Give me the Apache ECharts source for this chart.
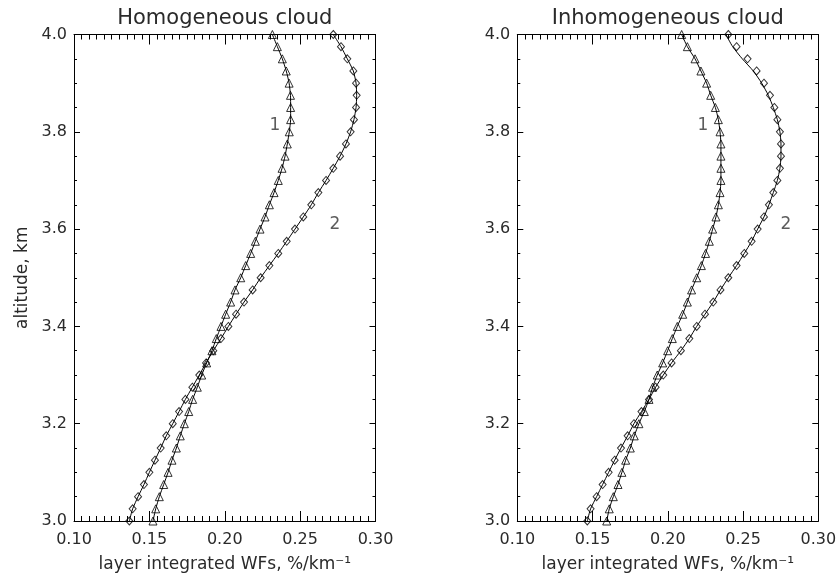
<!DOCTYPE html>
<html><head><meta charset="utf-8">
<script src="https://cdn.jsdelivr.net/npm/echarts@6/dist/echarts.min.js"></script>
<style>html,body{margin:0;padding:0;background:#fff}#c{width:840px;height:580px}</style>
</head><body><div id="c"></div>
<script>
// altitude grid (km), bottom to top
const altitudes = [3.000,3.025,3.050,3.075,3.100,3.125,3.150,3.175,3.200,3.225,
  3.250,3.275,3.300,3.325,3.350,3.375,3.400,3.425,3.450,3.475,
  3.500,3.525,3.550,3.575,3.600,3.625,3.650,3.675,3.700,3.725,
  3.750,3.775,3.800,3.825,3.850,3.875,3.900,3.925,3.950,3.975,4.000];

// Homogeneous cloud, curve 1 (triangles)
const homTri = [0.1524,0.1542,0.1566,0.1595,0.1624,0.1650,0.1679,0.1705,0.1732,0.1761,
  0.1787,0.1818,0.1847,0.1880,0.1915,0.1944,0.1975,0.2006,0.2039,0.2068,
  0.2106,0.2139,0.2172,0.2203,0.2234,0.2267,0.2296,0.2327,0.2355,0.2380,
  0.2400,0.2415,0.2428,0.2437,0.2437,0.2436,0.2427,0.2408,0.2382,0.2349,0.2316];
// Homogeneous cloud, curve 2 (diamonds)
const homDia = [0.1367,0.1389,0.1425,0.1464,0.1500,0.1537,0.1575,0.1612,0.1655,0.1697,
  0.1739,0.1785,0.1831,0.1876,0.1924,0.1975,0.2024,0.2075,0.2128,0.2185,
  0.2238,0.2296,0.2355,0.2411,0.2466,0.2521,0.2574,0.2621,0.2672,0.2720,
  0.2765,0.2804,0.2835,0.2857,0.2871,0.2875,0.2871,0.2853,0.2813,0.2771,0.2720];
// Inhomogeneous cloud, curve 1 (triangles)
const inhTri = [0.1594,0.1611,0.1638,0.1669,0.1695,0.1720,0.1751,0.1777,0.1808,0.1844,
  0.1875,0.1899,0.1930,0.1966,0.1999,0.2030,0.2063,0.2099,0.2130,0.2158,
  0.2192,0.2223,0.2251,0.2276,0.2298,0.2320,0.2336,0.2347,0.2353,0.2353,
  0.2353,0.2353,0.2347,0.2336,0.2316,0.2285,0.2258,0.2220,0.2181,0.2130,0.2092];
// Inhomogeneous cloud, curve 2 (diamond markers)
const inhDia = [0.1465,0.1487,0.1527,0.1567,0.1607,0.1647,0.1689,0.1733,0.1775,0.1825,
  0.1875,0.1919,0.1970,0.2025,0.2087,0.2143,0.2192,0.2247,0.2302,0.2350,
  0.2402,0.2457,0.2508,0.2557,0.2597,0.2639,0.2672,0.2701,0.2728,0.2745,
  0.2752,0.2752,0.2745,0.2728,0.2708,0.2679,0.2639,0.2590,0.2530,0.2457,0.2402];
// Inhomogeneous cloud, curve 2 (solid line)
const inhDiaLine = [0.1465,0.1487,0.1527,0.1567,0.1607,0.1647,0.1689,0.1733,0.1775,0.1825,
  0.1875,0.1919,0.1970,0.2025,0.2087,0.2143,0.2192,0.2247,0.2302,0.2350,
  0.2402,0.2457,0.2508,0.2557,0.2597,0.2639,0.2672,0.2701,0.2728,0.2745,
  0.2752,0.2752,0.2745,0.2728,0.2701,0.2668,0.2624,0.2568,0.2495,0.2431,0.2386];

const panelTitles = ['Homogeneous cloud', 'Inhomogeneous cloud'];
const xTitle = 'layer integrated WFs, %/km\u207B\u00B9';
const yTitle = 'altitude, km';
// curve number labels: [x, altitude, text]
const labelsHom = [[0.2333, 3.812, '1'], [0.2731, 3.610, '2']];
const labelsInh = [[0.2234, 3.812, '1'], [0.2785, 3.610, '2']];

const FONT = 'DejaVu Sans';
const TXT = '#2a2a2a';
const pairs = (arr) => arr.map((v, i) => [v, altitudes[i]]);

const grids = [
  {left: 74, top: 34.5, width: 301.5, height: 486.5},
  {left: 517.3, top: 34.5, width: 301, height: 486.5}
];

function xAxisDef(g, pos) {
  const bottom = pos === 'bottom';
  return {
    type: 'value', gridIndex: g, position: pos, min: 0.10, max: 0.30, interval: 0.05,
    axisLine: {show: true, onZero: false, lineStyle: {color: '#000', width: 1}},
    axisTick: {show: true, inside: true, length: 10, lineStyle: {color: '#000', width: 1}},
    minorTick: {show: true, splitNumber: 10, length: 5, lineStyle: {color: '#000', width: 1}},
    splitLine: {show: false},
    axisLabel: {show: bottom, fontFamily: FONT, fontSize: 16, color: TXT, margin: 11,
      formatter: v => v.toFixed(2)},
    name: bottom ? xTitle : '', nameLocation: 'middle', nameGap: 35,
    nameTextStyle: {fontFamily: FONT, fontSize: 17, color: TXT}
  };
}
function yAxisDef(g, pos, withName) {
  const left = pos === 'left';
  return {
    type: 'value', gridIndex: g, position: pos, min: 3.0, max: 4.0, interval: 0.2,
    axisLine: {show: true, onZero: false, lineStyle: {color: '#000', width: 1}},
    axisTick: {show: true, inside: true, length: 6, lineStyle: {color: '#000', width: 1}},
    minorTick: {show: true, splitNumber: 4, length: 3, lineStyle: {color: '#000', width: 1}},
    splitLine: {show: false},
    axisLabel: {show: left, fontFamily: FONT, fontSize: 16, color: TXT, margin: 7,
      formatter: v => v.toFixed(1)},
    name: withName ? yTitle : '', nameLocation: 'middle', nameGap: 43, nameRotate: 90,
    nameTextStyle: {fontFamily: FONT, fontSize: 17, color: TXT}
  };
}

function lineSeries(arr, xi, yi) {
  return {type: 'line', xAxisIndex: xi, yAxisIndex: yi, data: pairs(arr), showSymbol: false,
    smooth: 0.2, lineStyle: {color: '#000', width: 1}, silent: true, animation: false, z: 2};
}
function markSeries(arr, xi, yi, sym, size) {
  return {type: 'scatter', xAxisIndex: xi, yAxisIndex: yi, data: pairs(arr), symbol: sym,
    symbolSize: size, itemStyle: {color: 'rgba(255,255,255,0)', borderColor: '#000', borderWidth: 1},
    silent: true, animation: false, z: 3};
}
function labelSeries(arr, xi, yi) {
  return {type: 'scatter', xAxisIndex: xi, yAxisIndex: yi, data: arr, symbolSize: 1,
    itemStyle: {color: 'rgba(0,0,0,0)'}, silent: true, animation: false,
    label: {show: true, position: 'inside', formatter: p => p.data[2],
      fontFamily: FONT, fontSize: 17, color: '#333'}};
}

const option = {
  backgroundColor: '#fff',
  animation: false,
  title: panelTitles.map((t, i) => ({
    text: t, left: grids[i].left + grids[i].width / 2, top: 8, textAlign: 'center', padding: 0,
    textStyle: {fontFamily: FONT, fontSize: 21, fontWeight: 'normal', color: TXT}
  })),
  grid: grids,
  xAxis: [xAxisDef(0, 'bottom'), xAxisDef(0, 'top'), xAxisDef(1, 'bottom'), xAxisDef(1, 'top')],
  yAxis: [yAxisDef(0, 'left', true), yAxisDef(0, 'right', false), yAxisDef(1, 'left', false), yAxisDef(1, 'right', false)],
  series: [
    lineSeries(homTri, 0, 0), markSeries(homTri, 0, 0, 'triangle', [8, 8]),
    lineSeries(homDia, 0, 0), markSeries(homDia, 0, 0, 'diamond', [7, 8]),
    lineSeries(inhTri, 2, 2), markSeries(inhTri, 2, 2, 'triangle', [8, 8]),
    lineSeries(inhDiaLine, 2, 2), markSeries(inhDia, 2, 2, 'diamond', [7, 8]),
    labelSeries(labelsHom, 0, 0), labelSeries(labelsInh, 2, 2)
  ]
};
const chart = echarts.init(document.getElementById('c'), null, {renderer: 'canvas'});
chart.setOption(option);
</script>
</body></html>
